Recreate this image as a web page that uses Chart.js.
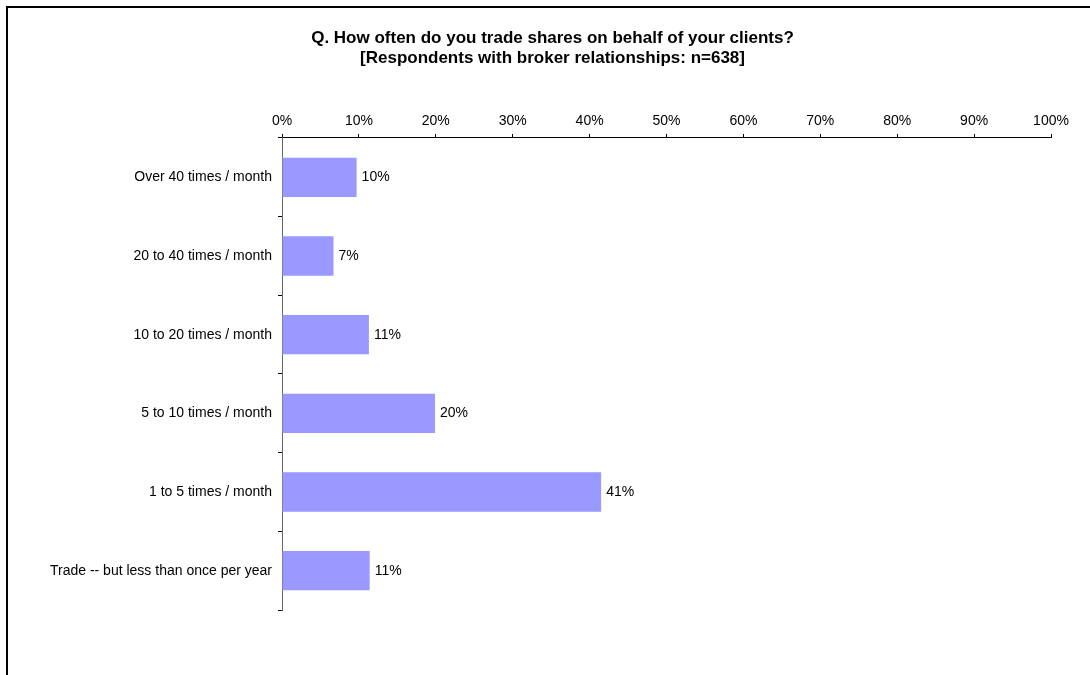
<!DOCTYPE html>
<html>
<head>
<meta charset="utf-8">
<script src="https://cdn.jsdelivr.net/npm/chart.js@4"></script>
<style>
  html, body { margin: 0; padding: 0; background: #fff; }
  #wrap { position: relative; width: 1090px; height: 675px; overflow: hidden; }
  #frame { position: absolute; left: 6px; top: 6px; width: 1200px; height: 800px; border-left: 2px solid #000; border-top: 2px solid #000; pointer-events: none; }
  canvas { position: absolute; left: 0; top: 0; }
</style>
</head>
<body>
<div id="wrap">
  <canvas id="c" width="1090" height="675"></canvas>
  <div id="frame"></div>
</div>
<script>
const titleLines = ['Q. How often do you trade shares on behalf of your clients?', '[Respondents with broker relationships: n=638]'];
const categories = ['Over 40 times / month', '20 to 40 times / month', '10 to 20 times / month', '5 to 10 times / month', '1 to 5 times / month', 'Trade -- but less than once per year'];
const shares = [9.7, 6.7, 11.3, 19.9, 41.5, 11.4];
const shareLabels = ['10%', '7%', '11%', '20%', '41%', '11%'];
const xTickMin = 0, xTickMax = 100, xTickStep = 10;

const FONT = "'Liberation Sans', Arial, sans-serif";

const valueLabels = {
  id: 'valueLabels',
  afterDatasetsDraw(chart) {
    const ctx = chart.ctx;
    const meta = chart.getDatasetMeta(0);
    ctx.save();
    ctx.font = '14px ' + FONT;
    ctx.fillStyle = '#000';
    ctx.textAlign = 'left';
    ctx.textBaseline = 'middle';
    meta.data.forEach((bar, i) => {
      ctx.fillText(shareLabels[i], bar.x + 5, bar.y);
    });
    ctx.restore();
  }
};

const titleShift = {
  id: 'titleShift',
  afterLayout(chart) {
    if (chart.titleBlock) {
      chart.titleBlock.left += 7;
      chart.titleBlock.right += 7;
    }
  }
};

new Chart(document.getElementById('c'), {
  type: 'bar',
  data: {
    labels: categories,
    datasets: [{
      data: shares,
      backgroundColor: '#9999FF',
      borderWidth: 0,
      barPercentage: 0.5,
      categoryPercentage: 1.0
    }]
  },
  options: {
    indexAxis: 'y',
    responsive: false,
    animation: false,
    devicePixelRatio: 1,
    layout: { padding: { left: 40, right: 39, top: 0, bottom: 65 } },
    plugins: {
      legend: { display: false },
      tooltip: { enabled: false },
      title: {
        display: true,
        text: titleLines,
        color: '#000',
        font: { family: FONT, size: 17, weight: 'bold', lineHeight: 1.176 },
        padding: { top: 28, bottom: 10 }
      }
    },
    scales: {
      x: {
        position: 'top',
        min: xTickMin,
        max: xTickMax,
        afterFit(scale) { scale.height = 138 - 28 - 40 - 10; },
        ticks: {
          stepSize: xTickStep,
          callback: v => v + '%',
          color: '#000',
          font: { family: FONT, size: 14 },
          padding: 4,
          maxRotation: 0
        },
        grid: { drawOnChartArea: false, drawTicks: true, tickLength: 4, color: '#000' },
        border: { display: true, color: '#000', width: 1 }
      },
      y: {
        afterFit(scale) { scale.width = 242; },
        ticks: {
          color: '#000',
          font: { family: FONT, size: 14 },
          padding: 6
        },
        grid: { offset: true, drawOnChartArea: false, drawTicks: true, tickLength: 4, color: '#000' },
        border: { display: true, color: '#666', width: 1 }
      }
    }
  },
  plugins: [valueLabels, titleShift]
});
</script>
</body>
</html>
